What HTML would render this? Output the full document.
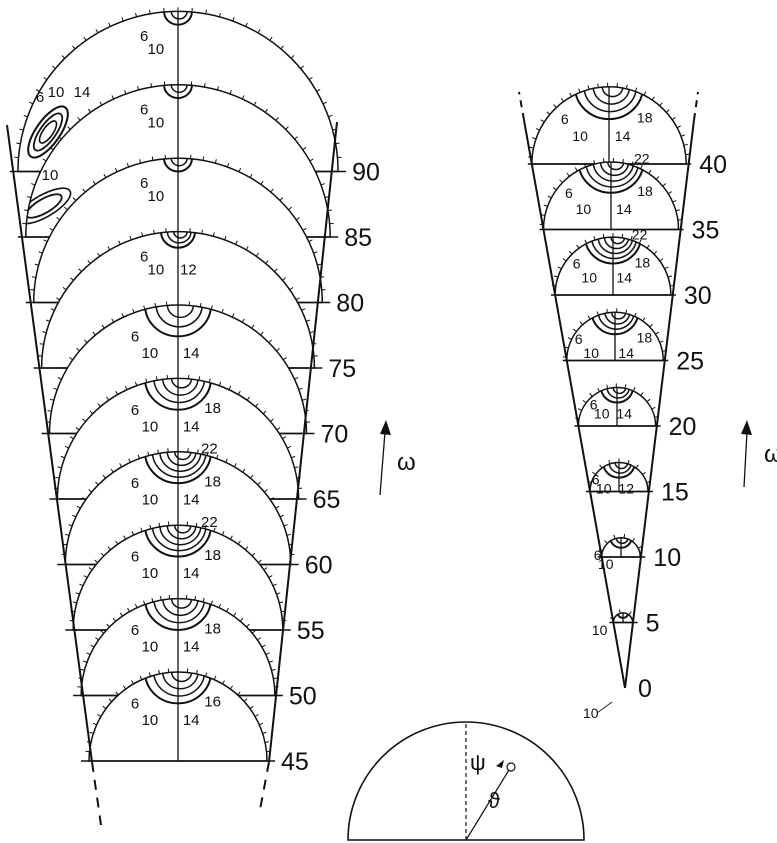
<!DOCTYPE html>
<html><head><meta charset="utf-8"><style>
html,body{margin:0;padding:0;background:#fff;}
svg{display:block;}
text{font-family:"Liberation Sans",sans-serif;fill:#111;}
</style></head><body>
<svg id="fig" width="777" height="843" viewBox="0 0 777 843" xmlns="http://www.w3.org/2000/svg">
<g id="left-fan"></g>
<g id="right-fan"></g>
<g id="extras">
  <path d="M348,840 A118,118 0 0 1 584,840 Z" fill="#fff" stroke="#111" stroke-width="1.6"/>
  <line x1="466" y1="840" x2="466" y2="722" stroke="#111" stroke-width="1.2" stroke-dasharray="4,3"/>
  <line x1="466" y1="840" x2="509" y2="770" stroke="#111" stroke-width="1.2"/>
  <circle cx="511" cy="767" r="4" fill="#fff" stroke="#111" stroke-width="1.2"/>
  <path d="M496,766 L504,760 L502,768 Z" fill="#111"/>
  <text x="470" y="770" font-size="22">ψ</text>
  <text x="488" y="808" font-size="22">ϑ</text>
  <line x1="380" y1="495" x2="385" y2="432" stroke="#111" stroke-width="1.3"/>
  <path d="M380,434 L386,420 L391,435 Z" fill="#111"/>
  <text x="397" y="470" font-size="24">ω</text>
  <line x1="744" y1="487" x2="747" y2="432" stroke="#111" stroke-width="1.3"/>
  <path d="M741,434 L747,420 L752,435 Z" fill="#111"/>
  <text x="764" y="462" font-size="24">ω</text>
  <path d="M597,713 L612,702" stroke="#111" stroke-width="0.8"/>
  <text x="583" y="718" font-size="14">10</text>
</g>
<defs id="defs"></defs>
</svg>
<script>
// data
const leftAngles = [45, 50, 55, 60, 65, 70, 75, 80, 85, 90];
const leftLevels = [[6,10,14,16],[6,10,14,18],[6,10,14,18,22],[6,10,14,18,22],[6,10,14,18],[6,10,14],[6,10,12],[6,10],[6,10],[6,10]];
const rightAngles = [5, 10, 15, 20, 25, 30, 35, 40];
const rightLevels = [[10],[6,10],[6,10,12],[6,10,14],[6,10,14,18],[6,10,14,18,22],[6,10,14,18,22],[6,10,14,18]];
const leftTickLabels = ["45","50","55","60","65","70","75","80","85","90"];
const rightTickLabels = ["0","5","10","15","20","25","30","35","40"];
const rightTickValues = [0,5,10,15,20,25,30,35,40];

const NS = "http://www.w3.org/2000/svg";
function mk(tag, attrs, parent){const e=document.createElementNS(NS,tag);for(const k in attrs)e.setAttribute(k,attrs[k]);parent.appendChild(e);return e;}
const defs=document.getElementById('defs');
let clipId=0;

// axis functions
const L = {baseY:a=>761-(a-45)*13.1, r:a=>89+(a-45)*1.58, cx:a=>178};
const R = {baseY:a=>688-a*13.1, r:a=>a*1.93, cx:a=>625-a*0.4};

const labelOffsets=[[-1.3,0.95],[-0.85,1.45],[0.4,1.45],[1.05,0.9],[0.95,-0.1]];

function section(g, ax, a, levels, outerR, fs, minLab){
  const cx=ax.cx(a), by=ax.baseY(a), r=ax.r(a);
  const sg=mk('g',{},g);
  
  
  const d=`M${cx-r},${by} A${r},${r} 0 0 1 ${cx+r},${by} Z`;
  const semi=mk('path',{d:d,fill:'#fff',stroke:'#111','stroke-width':1.5},sg);
  
  
  const id='c'+(clipId++);
  const cp=mk('clipPath',{id:id},defs);
  mk('path',{d:d},cp);
  const cg=mk('g',{'clip-path':`url(#${id})`},sg);
  const top=by-r, n=levels.length;
  for(let k=0;k<n;k++){
    const f=1-k/(n+0.3);
    const rx=outerR*f, ry=outerR*f*0.95;
    const el=mk('ellipse',{cx:cx+(k*1.2), cy:top, rx:rx, ry:ry, fill:'none',stroke:'#111','stroke-width':k===0?2:1.5},cg);
    
    
  }
  const cl=mk('line',{x1:cx,y1:by,x2:cx,y2:top,stroke:'#111','stroke-width':1.3},sg);
  
  
  const step=Math.max(5, Math.round(9/r*180/Math.PI));
  for(let t=0;t<=180;t+=step){
    const th=t*Math.PI/180, c=Math.cos(th), s=Math.sin(th);
    const tk=mk('line',{x1:cx+r*c,y1:by-r*s,x2:cx+(r+4)*c,y2:by-(r+4)*s,stroke:'#111','stroke-width':1},sg);
    
    
  }
  const LR=Math.max(outerR,minLab);
  levels.forEach((lv,k)=>{
    const o=labelOffsets[k%labelOffsets.length];
    const tx=mk('text',{x:cx+o[0]*LR,y:top+o[1]*LR+5,'font-size':fs,'text-anchor':'middle'},sg);
    tx.textContent=lv;
    
    
  });
  return {cg, cx, by, r, top};
}

const lg=document.getElementById('left-fan');
for(let i=leftAngles.length-1;i>=0;i--){
  const a=leftAngles[i];
  const outer = a>=80 ? 14 : (a===75 ? 17 : 33);
  const s=section(lg,L,a,leftLevels[i],outer,15,26);
  const bl=mk('line',{x1:L.cx(a)-L.r(a)-8,y1:s.by,x2:L.cx(a)+L.r(a)+8,y2:s.by,stroke:'#111','stroke-width':1.5},lg);
  
  
  const lab=mk('text',{x:L.cx(a)+L.r(a)+14,y:s.by+9,'font-size':25},lg);
  lab.textContent=leftTickLabels[i];
  
  
  if(a===90){
    [[30,12,2],[22,8,1.8],[13,5,1.6]].forEach(e=>{
      const b=mk('ellipse',{cx:48,cy:132,rx:e[0],ry:e[1],transform:'rotate(-55 48 132)',fill:'none',stroke:'#111','stroke-width':e[2]},s.cg);
      
      
    });
    [["6",40,102],["10",56,97],["14",82,97],["18",82,150]].forEach(t=>{
      const tx=mk('text',{x:t[1],y:t[2],'font-size':15,'text-anchor':'middle'},lg);tx.textContent=t[0];
      
      
    });
  }
  if(a===85){
    [[30,11,1.6],[20,7,1.8]].forEach(e=>{
      const b=mk('ellipse',{cx:44,cy:206,rx:e[0],ry:e[1],transform:'rotate(-30 44 206)',fill:'none',stroke:'#111','stroke-width':e[2]},s.cg);
      
      
    });
    [["10",50,180],["6",69,228]].forEach(t=>{
      const tx=mk('text',{x:t[1],y:t[2],'font-size':15,'text-anchor':'middle'},lg);tx.textContent=t[0];
      
      
    });
  }
}
function fanLine(g,x1,y1,x2,y2,name,dash){const l=mk('line',{x1,y1,x2,y2,stroke:'#111','stroke-width':2},g);if(dash)l.setAttribute('stroke-dasharray',dash);}
fanLine(lg,7,125,92,762,'left-fan-left-edge');
fanLine(lg,92,762,101,825,'left-fan-left-dash','10,8');
fanLine(lg,337,122,269,762,'left-fan-right-edge');
fanLine(lg,269,762,259,815,'left-fan-right-dash','10,8');

const rg=document.getElementById('right-fan');
for(let i=rightAngles.length-1;i>=0;i--){
  const a=rightAngles[i];
  const r=R.r(a);
  const outer = a>=25 ? Math.min(r*0.48,34) : Math.min(r*0.55,16);
  const s=section(rg,R,a,rightLevels[i],outer,14,a>=25?28:18);
  const bl=mk('line',{x1:R.cx(a)-r-4,y1:s.by,x2:R.cx(a)+r+5,y2:s.by,stroke:'#111','stroke-width':1.5},rg);
  
  
}
rightTickValues.forEach((v,i)=>{
  const lab=mk('text',{x:R.cx(v)+R.r(v)+13,y:R.baseY(v)+9,'font-size':25},rg);
  lab.textContent=rightTickLabels[i];
  
  
});
fanLine(rg,524,120,625,688,'right-fan-left-edge');
fanLine(rg,524,120,519,92,'right-fan-left-dash','7,6');
fanLine(rg,694,120,625,688,'right-fan-right-edge');
fanLine(rg,694,120,698,92,'right-fan-right-dash','7,6');
</script>
</body></html>
